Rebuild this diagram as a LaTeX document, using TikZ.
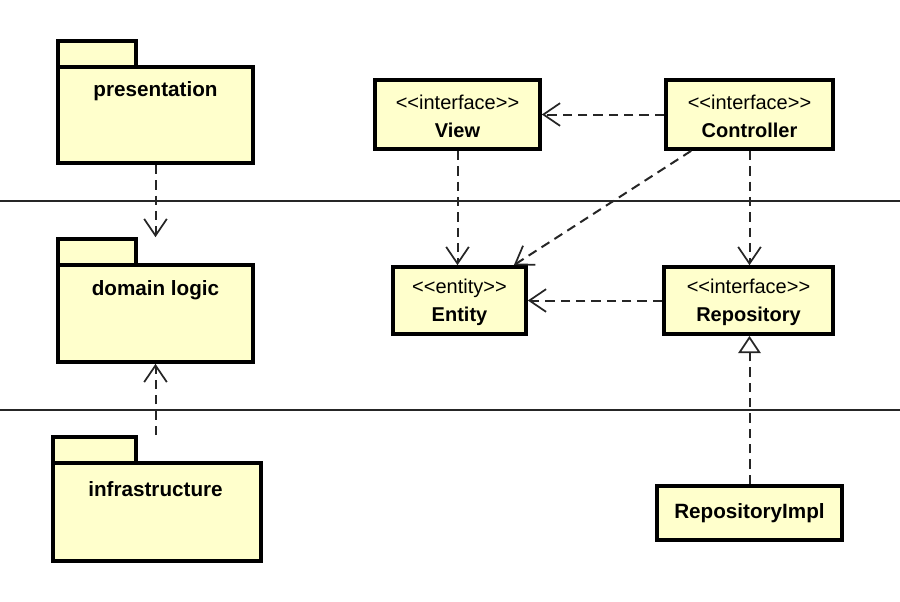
\documentclass[tikz,border=0pt]{standalone}
\usepackage{fontspec}
\setmainfont{Liberation Sans}
\usetikzlibrary{arrows.meta}
\definecolor{umlfill}{HTML}{FFFFCC}
\newcommand{\stereo}[1]{\rule{0pt}{14pt}{<}{<}#1{>}{>}}
\tikzset{
  box/.style={draw=black, fill=umlfill, line width=2.8pt, inner sep=0pt, align=center,
     font=\fontsize{15}{21}\selectfont},
  pkg/.style={draw=black, fill=umlfill, line width=2.8pt, inner sep=0pt},
  pkglbl/.style={font=\fontsize{15.5}{18}\selectfont\bfseries, inner sep=0pt},
  dep/.style={draw=black!85, line width=1.5pt, dash pattern=on 7pt off 4.5pt,
     -{Straight Barb[length=12.5pt,width=17pt,line width=1.3pt]}},
  real/.style={draw=black!85, line width=1.5pt, dash pattern=on 7pt off 4.5pt,
     -{Triangle[open,length=13pt,width=17pt,line width=1.3pt,fill=white]}},
  sepline/.style={draw=black!85, line width=1.2pt},
}
\begin{document}
\begin{tikzpicture}[x=0.75pt,y=-0.75pt]
\useasboundingbox (0,0) rectangle (900,601);
% separators
\coordinate (s1l) at (0,201); \coordinate (s1r) at (900,201);
\coordinate (s2l) at (0,410); \coordinate (s2r) at (900,410);
\draw[sepline] (s1l) -- (s1r);
\draw[sepline] (s2l) -- (s2r);
% packages
\node[pkg, minimum width=78*0.75pt, minimum height=26*0.75pt] (prestab) at (97,54) {};
\node[pkg, minimum width=195*0.75pt, minimum height=96*0.75pt] (pres) at (155.5,115) {};
\node[pkglbl] (preslbl) at (155.5,91) {presentation};
\node[pkg, minimum width=78*0.75pt, minimum height=26*0.75pt] (domtab) at (97,252) {};
\node[pkg, minimum width=195*0.75pt, minimum height=97*0.75pt] (dom) at (155.5,313.5) {};
\node[pkglbl] (domlbl) at (155.5,290) {domain logic};
\node[pkg, minimum width=83*0.75pt, minimum height=26*0.75pt] (inftab) at (94.5,450) {};
\node[pkg, minimum width=208*0.75pt, minimum height=98*0.75pt] (inf) at (157,512) {};
\node[pkglbl] (inflbl) at (155.5,489) {infrastructure};
% classes
\node[box, minimum width=165*0.75pt, minimum height=69*0.75pt] (view) at (457.5,114.5)
  {\stereo{interface}\\\textbf{View}};
\node[box, minimum width=167*0.75pt, minimum height=69*0.75pt] (ctrl) at (749.5,114.5)
  {\stereo{interface}\\\textbf{Controller}};
\node[box, minimum width=133*0.75pt, minimum height=67*0.75pt] (ent) at (459.5,300.5)
  {\stereo{entity}\\\textbf{Entity}};
\node[box, minimum width=169*0.75pt, minimum height=67*0.75pt] (repo) at (748.5,300.5)
  {\stereo{interface}\\\textbf{Repository}};
\node[box, minimum width=185*0.75pt, minimum height=54*0.75pt, font=\fontsize{15.5}{18}\selectfont\bfseries] (impl) at (749.5,513)
  {RepositoryImpl};
% connectors
\draw[dep] (pres.south) -- (pres.south |- domtab.north);
\draw[dep] (dom.south |- inftab.north) -- (dom.south);
\draw[dep] (ctrl.west) -- (view.east);
\draw[dep] (view.south) -- (view.south |- ent.north);
\draw[dep] ([xshift=27*0.75pt]ctrl.south west) -- ([xshift=-14*0.75pt]ent.north east);
\draw[dep] (ctrl.south) -- (ctrl.south |- repo.north);
\draw[dep] (repo.west) -- (ent.east);
\draw[real] (impl.north) -- (impl.north |- repo.south);
\end{tikzpicture}
\end{document}
